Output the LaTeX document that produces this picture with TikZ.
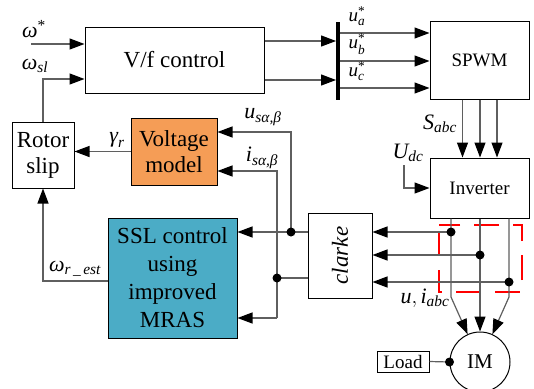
\documentclass[tikz,border=0pt]{standalone}
\usepackage{amsmath}
\usepackage{fontspec}
\setmainfont{Liberation Serif}
\usetikzlibrary{arrows.meta,calc}
\definecolor{orangebox}{RGB}{245,157,86}
\definecolor{tealbox}{RGB}{75,172,198}
\definecolor{wire}{RGB}{95,95,95}
\newcommand{\mi}[1]{\textit{#1}}
\newcommand{\st}{\textup{*}}
\begin{document}
\begin{tikzpicture}[x=1pt,y=-1pt,
  box/.style={draw=black, line width=1pt, inner sep=0pt, align=center},
  big/.style={font=\fontsize{23}{26}\selectfont},
  mid/.style={font=\fontsize{19}{22}\selectfont},
  lab/.style={font=\fontsize{22}{24}\selectfont, inner sep=0pt},
  ulab/.style={font=\fontsize{19}{21}\selectfont, inner sep=0pt},
  arr/.style={draw=wire, line width=1.2pt, -{Triangle[length=15pt,width=11pt,color=black]}},
  wireline/.style={draw=wire, line width=1.2pt},
  dot/.style={fill=black}]
\useasboundingbox (0,0) rectangle (534,388);

% boxes
\node[box, big, minimum width=179pt, minimum height=66pt] (vf) at (174.5,60) {V/f control};
\node[box, big, minimum width=62pt, minimum height=66pt] (rs) at (43,155) {Rotor\\slip};
\node[box, big, fill=orangebox, minimum width=86pt, minimum height=67pt] (vm) at (174,151.5) {Voltage\\model};
\node[box, big, fill=tealbox, minimum width=129pt, minimum height=120pt, font=\fontsize{23}{28}\selectfont] (ssl) at (172.5,278) {SSL control\\using\\improved\\MRAS};
\node[box, minimum width=64pt, minimum height=85pt] (clarke) at (340,255.5) {};
\node[rotate=90, font=\fontsize{23}{26}\selectfont\itshape] (clarketext) at (clarke) {clarke};
\node[box, mid, minimum width=99pt, minimum height=78pt] (spwm) at (479.5,60) {SPWM};
\node[box, mid, minimum width=99pt, minimum height=60pt] (inv) at (479.5,188) {Inverter};
\node[box, circle, font=\fontsize{21}{24}\selectfont, minimum size=60pt] (im) at (480,362) {IM};
\node[box, mid, minimum width=52pt, minimum height=21pt] (load) at (403,361.5) {Load};
\node[fill=black, minimum width=3.5pt, minimum height=78pt, inner sep=0pt] (bus) at (338,61) {};

% red dashed frame
\draw[red, line width=1.3pt, dash pattern=on 25pt off 14pt, dash phase=-6pt] (439,225) rectangle (522,292);

% inputs to V/f
\coordinate (wstar) at (31,44);
\draw[arr] (wstar) -- (wstar -| vf.west);
\draw[arr] (rs.north) |- ([yshift=-19pt]vf.west);

% V/f to bus
\draw[arr] ([yshift=19pt]vf.east) -- ([yshift=19pt]vf.east -| bus.west);
\draw[arr] ([yshift=-20pt]vf.east) -- ([yshift=-20pt]vf.east -| bus.west);

% bus to SPWM
\draw[arr] ([yshift=27pt]spwm.west -| bus.east) -- ([yshift=27pt]spwm.west);
\draw[arr] ([yshift=-1pt]spwm.west -| bus.east) -- ([yshift=-1pt]spwm.west);
\draw[arr] ([yshift=-28pt]spwm.west -| bus.east) -- ([yshift=-28pt]spwm.west);

% SPWM to inverter
\draw[arr] ([xshift=-17pt]spwm.south) -- ([xshift=-17pt]inv.north);
\draw[arr] ([xshift=0.5pt]spwm.south) -- ([xshift=0.5pt]inv.north);
\draw[arr] ([xshift=17.5pt]spwm.south) -- ([xshift=17.5pt]inv.north);

% Udc
\coordinate (udc) at (404,165);
\draw[arr] (udc) |- (inv.west);

% inverter to IM
\coordinate (b1) at (451,297);
\coordinate (b3) at (509,297);
\draw[arr] ([xshift=-28.5pt]inv.south) -- (b1) -- (im.114);
\draw[arr] ([xshift=0.5pt]inv.south) -- (im.north);
\draw[arr] ([xshift=29.5pt]inv.south) -- (b3) -- (im.66);

% measurement taps to clarke
\coordinate (d1) at (451,232);
\coordinate (d2) at (480,255);
\coordinate (d3) at (509,282);
\draw[arr] (d1) -- (d1 -| clarke.east);
\draw[arr] (d2) -- (d2 -| clarke.east);
\draw[arr] (d3) -- (d3 -| clarke.east);
\fill[dot] (d1) circle (4.5pt);
\fill[dot] (d2) circle (4.5pt);
\fill[dot] (d3) circle (4.5pt);

% clarke outputs
\coordinate (ju) at (291,232);
\coordinate (ji) at (277,278);
\coordinate (ibot) at (277,318);
\draw[arr] (ju -| clarke.west) -- (ju -| ssl.east);
\draw[wireline] (ji -| clarke.west) -- (ji);
\draw[arr] (ju) |- ([yshift=19.5pt]vm.east);
\draw[arr] (ibot) |- ([yshift=-19.5pt]vm.east);
\draw[arr] (ibot) -- (ibot -| ssl.east);
\fill[dot] (ju) circle (4.5pt);
\fill[dot] (ji) circle (4.5pt);

% voltage model to rotor slip
\draw[arr] (vm.west) -- (vm.west -| rs.east);
% SSL to rotor slip
\draw[arr] ([yshift=-3pt]ssl.west) -| (rs.south);

% load
\draw[wireline] (load.east) -- (im.west);
\fill[dot] (im.west) circle (4.5pt);

% labels
\node[lab] (lwstar) at (34,29) {$\mi{ω}^{\st}$};
\node[lab] (lwsl) at (35,66) {$\mi{ω}_{\mi{sl}}$};
\node[lab] (lgam) at (117,140) {$\mi{γ}_{\mi{r}}$};
\node[lab] (lus) at (263,117) {$\mi{u}_{\mi{sα,β}}$};
\node[lab] (lis) at (262,158) {$\mi{i}_{\mi{sα,β}}$};
\node[lab] (lsabc) at (440,124) {$\mi{S}_{\mi{abc}}$};
\node[lab] (ludc) at (408,153) {$\mi{U}_{\mi{dc}}$};
\node[ulab] (lua) at (357,16) {$\mi{u}_{\mi{a}}^{\st}$};
\node[ulab] (lub) at (357,44) {$\mi{u}_{\mi{b}}^{\st}$};
\node[ulab] (luc) at (357,71) {$\mi{u}_{\mi{c}}^{\st}$};
\node[lab] (luiabc) at (425,298) {$\mi{u},\mi{i}_{\mi{abc}}$};
\node[lab] (lwr) at (75,269) {$\mi{ω}_{\mi{r\,\_\,est}}$};
\end{tikzpicture}
\end{document}
